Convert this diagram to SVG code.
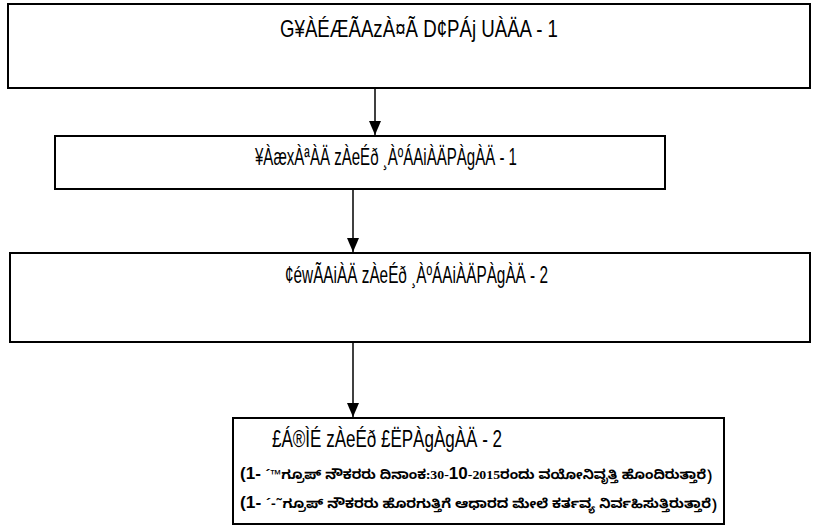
<svg xmlns="http://www.w3.org/2000/svg" width="816" height="531" viewBox="0 0 816 531">
<defs>
<marker id="ah" markerWidth="14" markerHeight="12" refX="14" refY="6" orient="auto" markerUnits="userSpaceOnUse" viewBox="0 0 14 12">
<path d="M0,0 L14,6 L0,12 Z" fill="#000"/>
</marker>
<style>
.box{fill:#fff;stroke:#000;stroke-width:2}
.hd{font-family:"Liberation Sans",Arial,sans-serif;font-size:24px;fill:#000}
.kn{font-family:"Noto Sans Kannada","Noto Serif Kannada","Lohit Kannada","Tunga",sans-serif;font-size:13px;font-weight:bold;fill:#000}
.lat{font-family:"Liberation Sans",Arial,sans-serif;font-weight:bold;font-size:16px}
.ser{font-family:"Liberation Serif","Times New Roman",serif;font-weight:bold;font-size:13px}
.conn{stroke:#000;stroke-width:1.5;fill:none}
</style>
</defs>
<rect width="816" height="531" fill="#fff"/>
<g id="node1">
<rect class="box" x="8" y="4" width="802" height="84"/>
<text class="hd" x="280" y="37" textLength="278" lengthAdjust="spacingAndGlyphs">G¥ÀÉÆÃAzÀ¤Ã D¢PÁj UÀÄA - 1</text>
</g>
<g id="node2">
<rect class="box" x="55" y="136" width="610" height="53"/>
<text class="hd" x="255" y="165" textLength="262" lengthAdjust="spacingAndGlyphs">¥ÀæxÀªÀÄ zÀeÉð ¸ÀºÁAiÀÄPÀgÀÄ - 1</text>
</g>
<g id="node3">
<rect class="box" x="10" y="253" width="800" height="89"/>
<text class="hd" x="285" y="283" textLength="263" lengthAdjust="spacingAndGlyphs">¢éwÃAiÀÄ zÀeÉð ¸ÀºÁAiÀÄPÀgÀÄ - 2</text>
</g>
<g id="node4">
<rect class="box" x="233" y="418" width="491" height="106"/>
<text class="hd" x="272" y="447" textLength="230" lengthAdjust="spacingAndGlyphs">£Á®ÌÉ zÀeÉð £ËPÀgÀgÀÄ - 2</text>
<text class="kn" x="240" y="479" textLength="472" lengthAdjust="spacingAndGlyphs"><tspan class="lat">(1- </tspan>´™ಗ್ರೂಪ್ ನೌಕರರು ದಿನಾಂಕ:<tspan class="ser">30-</tspan><tspan class="lat">10</tspan><tspan class="ser">-2015</tspan>ರಂದು ವಯೋನಿವೃತ್ತಿ ಹೊಂದಿರುತ್ತಾರೆ)</text>
<text class="kn" x="240" y="508" textLength="477" lengthAdjust="spacingAndGlyphs"><tspan class="lat">(1- </tspan>´-˜ಗ್ರೂಪ್ ನೌಕರರು ಹೊರಗುತ್ತಿಗೆ ಆಧಾರದ ಮೇಲೆ ಕರ್ತವ್ಯ ನಿರ್ವಹಿಸುತ್ತಿರುತ್ತಾರೆ)</text>
</g>
<g id="connectors">
<line class="conn" x1="375" y1="89" x2="375" y2="135" marker-end="url(#ah)"/>
<line class="conn" x1="353" y1="190" x2="353" y2="252" marker-end="url(#ah)"/>
<line class="conn" x1="353" y1="343" x2="353" y2="417" marker-end="url(#ah)"/>
</g>
</svg>
